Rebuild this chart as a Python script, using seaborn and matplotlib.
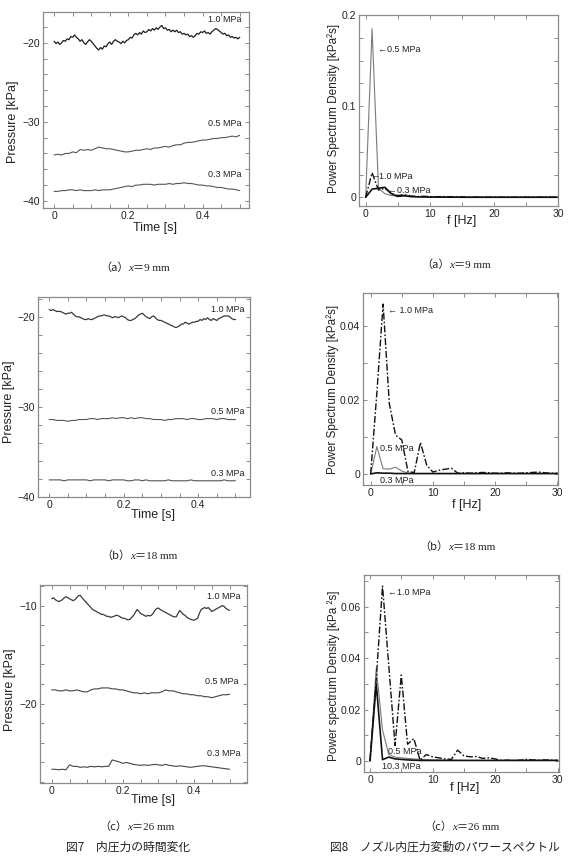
import numpy as np
import pandas as pd
import matplotlib
matplotlib.use("Agg")
import matplotlib.pyplot as plt
import seaborn as sns
from matplotlib.ticker import MultipleLocator, FixedLocator, FixedFormatter
from matplotlib.transforms import IdentityTransform

# ---------------- data: pressure time series (kPa) ----------------
p_a_10 = [-19.8, -20.1, -19.9, -20.2, -20.0, -19.7, -19.8, -19.5, -19.6, -19.2,
          -19.3, -19.0, -19.3, -19.5, -19.8, -19.6, -20.0, -20.2, -19.9, -19.6,
          -19.8, -20.1, -20.4, -20.7, -20.9, -20.6, -20.8, -20.4, -20.5, -20.1,
          -19.9, -20.2, -19.8, -19.6, -19.8, -19.9, -20.1, -19.8, -20.0, -19.7,
          -19.6, -19.3, -19.4, -19.0, -18.8, -19.0, -18.7, -18.9, -18.5, -18.7,
          -18.6, -18.3, -18.5, -18.2, -18.4, -18.1, -18.3, -18.0, -17.8, -18.2,
          -18.1, -18.4, -18.3, -18.6, -18.4, -18.6, -18.4, -18.7, -18.6, -18.9,
          -18.8, -19.0, -18.9, -19.2, -19.1, -19.3, -19.1, -18.8, -18.9, -18.6,
          -18.7, -18.5, -18.8, -18.7, -18.9, -18.6, -18.4, -18.2, -18.3, -18.5,
          -18.7, -18.9, -18.8, -19.1, -19.0, -19.3, -19.2, -19.4, -19.3, -19.5,
          -19.3]
p_a_05 = [-34.2, -34.1, -34.2, -34.0, -34.0, -33.8, -33.9, -33.5, -33.6, -33.5,
          -33.6, -33.4, -33.2, -33.3, -33.4, -33.4, -33.5, -33.6, -33.7, -33.8,
          -33.8, -33.7, -33.6, -33.6, -33.5, -33.4, -33.5, -33.3, -33.3, -33.2,
          -33.1, -33.2, -33.0, -32.9, -32.9, -32.7, -32.6, -32.6, -32.5, -32.4,
          -32.3, -32.3, -32.2, -32.1, -32.1, -32.0, -32.0, -31.9, -31.8, -31.9,
          -31.7]
p_a_03 = [-38.8, -38.8, -38.7, -38.7, -38.6, -38.6, -38.7, -38.6, -38.7, -38.7,
          -38.7, -38.6, -38.7, -38.6, -38.6, -38.6, -38.5, -38.4, -38.3, -38.2,
          -38.1, -38.2, -38.0, -38.0, -37.9, -37.9, -37.9, -38.0, -37.9, -37.9,
          -37.9, -37.8, -37.9, -37.8, -37.8, -37.7, -37.8, -37.8, -37.9, -38.0,
          -38.0, -38.1, -38.1, -38.2, -38.3, -38.3, -38.4, -38.5, -38.5, -38.6,
          -38.7]

p_b_10 = [-19.2, -19.3, -19.2, -19.3, -19.4, -19.4, -19.4, -19.5, -19.6, -19.7,
          -19.6, -19.6, -19.5, -19.7, -19.9, -20.0, -20.0, -20.1, -20.2, -20.3,
          -20.3, -20.2, -20.3, -20.3, -20.2, -20.1, -20.0, -19.9, -19.9, -19.8,
          -19.8, -19.9, -19.9, -20.0, -20.1, -20.0, -20.0, -20.1, -20.0, -19.9,
          -20.0, -20.1, -20.3, -20.4, -20.4, -20.3, -20.2, -20.0, -19.8, -19.7,
          -19.6, -19.8, -20.0, -20.1, -20.2, -20.0, -19.9, -20.1, -20.3, -20.4,
          -20.4, -20.5, -20.6, -20.7, -20.8, -20.9, -21.0, -21.1, -21.2, -21.1,
          -21.0, -20.8, -20.8, -20.6, -20.7, -20.8, -20.7, -20.6, -20.6, -20.5,
          -20.5, -20.3, -20.4, -20.2, -20.3, -20.1, -20.3, -20.4, -20.2, -20.3,
          -20.4, -20.2, -20.1, -20.0, -19.9, -19.9, -19.9, -20.0, -20.2, -20.3,
          -20.3]
p_b_05 = [-31.4, -31.4, -31.5, -31.5, -31.5, -31.6, -31.5, -31.5, -31.4, -31.4,
          -31.4, -31.3, -31.3, -31.4, -31.3, -31.3, -31.3, -31.2, -31.3, -31.2,
          -31.2, -31.3, -31.2, -31.3, -31.2, -31.2, -31.3, -31.3, -31.4, -31.4,
          -31.4, -31.5, -31.4, -31.4, -31.3, -31.3, -31.3, -31.4, -31.3, -31.3,
          -31.4, -31.4, -31.3, -31.3, -31.3, -31.4, -31.3, -31.3, -31.4, -31.4,
          -31.4]
p_b_03 = [-38.1, -38.1, -38.1, -38.1, -38.2, -38.1, -38.1, -38.1, -38.1, -38.1,
          -38.1, -38.2, -38.1, -38.1, -38.1, -38.1, -38.2, -38.1, -38.1, -38.1,
          -38.1, -38.2, -38.2, -38.1, -38.1, -38.2, -38.1, -38.2, -38.2, -38.2,
          -38.2, -38.2, -38.1, -38.2, -38.2, -38.2, -38.2, -38.2, -38.1, -38.2,
          -38.2, -38.2, -38.2, -38.2, -38.2, -38.2, -38.2, -38.1, -38.2, -38.2,
          -38.2]

p_c_10 = [-9.3, -9.2, -9.4, -9.5, -9.6, -9.5, -9.4, -9.2, -9.1, -9.2,
          -9.3, -9.4, -9.5, -9.4, -9.2, -9.0, -8.95, -9.2, -9.4, -9.6,
          -9.8, -10.0, -10.2, -10.4, -10.5, -10.6, -10.7, -10.8, -10.9, -10.9,
          -11.0, -11.1, -11.1, -11.2, -11.15, -11.1, -11.0, -11.0, -11.1, -11.2,
          -11.3, -11.3, -11.4, -11.45, -11.4, -11.2, -11.0, -10.7, -10.4, -10.6,
          -10.8, -10.9, -11.0, -11.1, -11.0, -11.05, -11.0, -10.8, -10.5, -10.3,
          -10.25, -10.4, -10.5, -10.6, -10.7, -10.8, -10.9, -11.0, -11.1, -11.15,
          -11.15, -10.8, -10.5, -10.7, -10.9, -11.0, -11.2, -11.3, -11.4, -11.45,
          -11.5, -11.4, -11.3, -10.8, -10.4, -10.3, -10.2, -10.3, -10.2, -10.4,
          -10.6, -10.5, -10.4, -10.3, -10.2, -10.1, -10.0, -10.1, -10.3, -10.4,
          -10.5]
p_c_05 = [-18.6, -18.6, -18.7, -18.7, -18.6, -18.7, -18.7, -18.6, -18.7, -18.8,
          -18.8, -18.6, -18.5, -18.5, -18.4, -18.4, -18.4, -18.5, -18.5, -18.6,
          -18.6, -18.7, -18.8, -18.9, -18.9, -19.0, -18.9, -19.0, -18.9, -18.9,
          -18.9, -18.8, -18.6, -18.7, -18.7, -18.8, -18.9, -19.0, -19.0, -19.1,
          -19.1, -19.2, -19.2, -19.3, -19.3, -19.4, -19.3, -19.2, -19.1, -19.1,
          -19.05]
p_c_03 = [-26.7, -26.7, -26.75, -26.7, -26.75, -26.25, -26.4, -26.4, -26.5, -26.45,
          -26.5, -26.4, -26.45, -26.4, -26.45, -26.4, -26.4, -25.75, -25.85, -25.95,
          -26.1, -26.0, -26.1, -26.2, -26.25, -26.3, -26.25, -26.3, -26.25, -26.2,
          -26.25, -26.3, -26.2, -26.3, -26.35, -26.4, -26.35, -26.4, -26.45, -26.5,
          -26.45, -26.4, -26.35, -26.35, -26.4, -26.45, -26.5, -26.55, -26.6, -26.65,
          -26.7]

# ---------------- data: power spectrum density (kPa^2 s), f = 0..30 Hz ----------------
freq = list(range(31))
s_a_05 = [0, 0.185, 0.010, 0.004, 0.002, 0.0015, 0.0012, 0.0010, 0.0008, 0.0006,
          0.0005, 0.0004, 0.0004, 0.0003, 0.0003, 0.0002, 0.0002, 0.0002, 0.0001, 0.0001,
          0.0001, 0.0001, 0.0001, 0.0001, 0.0001, 0.0001, 0.0001, 0.0001, 0.0001, 0.0001, 0.0001]
s_a_10 = [0, 0.027, 0.008, 0.010, 0.004, 0.002, 0.003, 0.0015, 0.0010, 0.0012,
          0.0008, 0.0007, 0.0009, 0.0006, 0.0004, 0.0005, 0.0003, 0.0003, 0.0002, 0.0002,
          0.0002, 0.0002, 0.0002, 0.0002, 0.0002, 0.0002, 0.0002, 0.0002, 0.0002, 0.0002, 0.0002]
s_a_03 = [0, 0.009, 0.010, 0.011, 0.004, 0.001, 0.002, 0.0008, 0.0005, 0.0004,
          0.0003, 0.0003, 0.0002, 0.0002, 0.0002, 0.0001, 0.0001, 0.0001, 0.0001, 0.0001,
          0.0001, 0.0001, 0.0001, 0.0001, 0.0001, 0.0001, 0.0001, 0.0001, 0.0001, 0.0001, 0.0001]

s_b_10 = [0, 0.022, 0.046, 0.019, 0.0105, 0.0092, 0.0006, 0.0004, 0.0085, 0.0024,
          0.0005, 0.0010, 0.0013, 0.0015, 0.0002, 0.0003, 0.0002, 0.0003, 0.0004, 0.0003,
          0.0002, 0.0002, 0.0003, 0.0002, 0.0002, 0.0003, 0.0004, 0.0005, 0.0003, 0.0002, 0.0002]
s_b_05 = [0, 0.0074, 0.0014, 0.0013, 0.0018, 0.0008, 0.0002, 0.0001, 0.0001, 0.0001,
          0.0001, 0.0001, 0.0001, 0.0001, 0.0001, 0.0001, 0.0001, 0.0001, 0.0001, 0.0001,
          0.0001, 0.0001, 0.0001, 0.0001, 0.0001, 0.0001, 0.0001, 0.0001, 0.0001, 0.0001, 0.0001]
s_b_03 = [0, 0.0003, 0.0002, 0.0002, 0.0001, 0.0001, 0.0001, 0.0001, 0.0001, 0.0001,
          0.0001, 0.0001, 0.0001, 0.0001, 0.0001, 0.0001, 0.0001, 0.0001, 0.0001, 0.0001,
          0.0001, 0.0001, 0.0001, 0.0001, 0.0001, 0.0001, 0.0001, 0.0001, 0.0001, 0.0001, 0.0001]

s_c_10 = [0, 0.032, 0.068, 0.037, 0.006, 0.0334, 0.0065, 0.0087, 0.0003, 0.0025,
          0.0016, 0.0012, 0.0008, 0.0006, 0.0042, 0.0020, 0.0016, 0.0017, 0.0010, 0.0012,
          0.0008, 0.0002, 0.0003, 0.0002, 0.0003, 0.0006, 0.0004, 0.0003, 0.0004, 0.0003, 0.0002]
s_c_05 = [0, 0.036, 0.012, 0.0025, 0.0015, 0.0012, 0.0010, 0.0008, 0.0006, 0.0005,
          0.0004, 0.0004, 0.0003, 0.0003, 0.0002, 0.0002, 0.0002, 0.0002, 0.0002, 0.0002,
          0.0002, 0.0002, 0.0002, 0.0002, 0.0002, 0.0002, 0.0002, 0.0002, 0.0002, 0.0002, 0.0002]
s_c_03 = [0, 0.030, 0.0005, 0.0015, 0.0008, 0.0006, 0.0004, 0.0003, 0.0002, 0.0002,
          0.0002, 0.0002, 0.0002, 0.0002, 0.0002, 0.0002, 0.0002, 0.0002, 0.0002, 0.0002,
          0.0002, 0.0002, 0.0002, 0.0002, 0.0002, 0.0002, 0.0002, 0.0002, 0.0002, 0.0002, 0.0002]

series_labels = ["1.0 MPa", "0.5 MPa", "0.3 MPa"]
captions = [("a", "9"), ("b", "18"), ("c", "26")]
fig7_title = "図7　内圧力の時間変化"
fig8_title = "図8　ノズル内圧力変動のパワースペクトル"

# ---------------- style ----------------
sns.set_theme(style="ticks")
plt.rcParams["font.family"] = ["Liberation Sans", "DejaVu Sans"]
plt.rcParams["axes.unicode_minus"] = True

W, H = 569, 856
fig = plt.figure(figsize=(W / 100, H / 100), dpi=100)
fig.patch.set_facecolor("white")

FRAME = "#8a8a8a"
TXT = "#222222"


def make_ax(l, t, r, b):
    ax = fig.add_axes([l / W, 1 - b / H, (r - l) / W, (b - t) / H])
    ax.set_facecolor("white")
    for s in ax.spines.values():
        s.set_color(FRAME)
        s.set_linewidth(0.9)
    ax.tick_params(which="both", direction="in", top=True, right=True, length=3,
                   width=0.7, color=FRAME, labelsize=7.5, labelcolor=TXT, pad=2)
    return ax


def place_labels(ax, rect, xlab, ylab, xl_px, yl_px, ysize=9):
    l, t, r, b = rect
    ax.set_xlabel(xlab, fontsize=9, color=TXT, va="center", ha="center")
    ax.set_ylabel(ylab, fontsize=ysize, color=TXT, va="center", ha="center")
    ax.xaxis.set_label_coords((xl_px[0] - l) / (r - l), (b - xl_px[1]) / (b - t))
    ax.yaxis.set_label_coords((yl_px[0] - l) / (r - l), (b - yl_px[1]) / (b - t))


def line(ax, x, y, **kw):
    df = pd.DataFrame({"x": x, "y": y})
    sns.lineplot(data=df, x="x", y="y", ax=ax, estimator=None, sort=False,
                 legend=False, **kw)


def tgrid(v):
    n = len(v)
    return np.arange(n) * (0.5 / (n - 1))


# ---------------- time series panels ----------------
ts_panels = [
    dict(rect=(43, 12, 249, 208), ylim=(-40.9, -16.1), xlim=(-0.03, 0.525),
         data=[p_a_10, p_a_05, p_a_03], colors=["#1e1e1e", "#555555", "#555555"],
         yticks=[-40, -30, -20],
         lab=[(0.505, -17.0), (0.505, -30.25), (0.505, -36.6)],
         xl=(155, 228), yl=(13, 122)),
    dict(rect=(38, 297, 250, 497), ylim=(-40.0, -17.8), xlim=(-0.03, 0.539),
         data=[p_b_10, p_b_05, p_b_03], colors=["#3a3a3a", "#555555", "#555555"],
         yticks=[-40, -30, -20],
         lab=[(0.525, -19.2), (0.525, -30.55), (0.525, -37.4)],
         xl=(153, 515), yl=(9, 402)),
    dict(rect=(40, 585, 247, 783), ylim=(-28.1, -7.9), xlim=(-0.033, 0.549),
         data=[p_c_10, p_c_05, p_c_03], colors=["#3a3a3a", "#444444", "#444444"],
         yticks=[-20, -10],
         lab=[(0.53, -9.05), (0.525, -17.7), (0.532, -25.1)],
         xl=(153, 800), yl=(10, 690)),
]

for p in ts_panels:
    ax = make_ax(*p["rect"])
    for v, c, lw in zip(p["data"], p["colors"], [0.9, 0.8, 0.8]):
        line(ax, tgrid(v), v, color=c, linewidth=lw)
    ax.set_xlim(*p["xlim"])
    ax.set_ylim(*p["ylim"])
    ax.xaxis.set_major_locator(FixedLocator([0, 0.2, 0.4]))
    ax.xaxis.set_major_formatter(FixedFormatter(["0", "0.2", "0.4"]))
    ax.xaxis.set_minor_locator(MultipleLocator(0.05))
    ax.yaxis.set_major_locator(FixedLocator(p["yticks"]))
    ax.yaxis.set_major_formatter(FixedFormatter(["\u2212%d" % abs(v) for v in p["yticks"]]))
    ax.yaxis.set_minor_locator(MultipleLocator(2))
    for (x, y), s in zip(p["lab"], series_labels):
        ax.text(x, y, s, fontsize=6.5, ha="right", va="center", color=TXT)
    place_labels(ax, p["rect"], "Time [s]", "Pressure [kPa]", p["xl"], p["yl"])

# ---------------- PSD panels ----------------
psd_panels = [
    dict(rect=(359, 15, 558, 206), ylim=(-0.0095, 0.2), xlim=(-1.04, 30),
         data=[s_a_10, s_a_05, s_a_03], yticks=[0, 0.1, 0.2], ylabs=["0", "0.1", "0.2"],
         yminor=0.025,
         lab=[(1.35, 0.0227, "\u20131.0 MPa"), (1.9, 0.162, "\u21900.5 MPa"), (3.5, 0.0073, "\u21900.3 MPa")],
         ylabel="Power Spectrum Density [kPa\u00b2s]",
         xl=(462, 221), yl=(334, 108)),
    dict(rect=(363, 293, 558, 485), ylim=(-0.003, 0.049), xlim=(-1.23, 30.1),
         data=[s_b_10, s_b_05, s_b_03], yticks=[0, 0.02, 0.04], ylabs=["0", "0.02", "0.04"],
         yminor=0.01,
         lab=[(2.8, 0.0443, "\u2190 1.0 MPa"), (1.45, 0.0068, "0.5 MPa"), (1.45, -0.0018, "0.3 MPa")],
         ylabel="Power Spectrum Density [kPa\u00b2s]",
         xl=(467, 505), yl=(333, 389)),
    dict(rect=(364, 575, 559, 772), ylim=(-0.0043, 0.0723), xlim=(-0.96, 30.2),
         data=[s_c_10, s_c_05, s_c_03], yticks=[0, 0.02, 0.04, 0.06],
         ylabs=["0", "0.02", "0.04", "0.06"], yminor=0.01,
         lab=[(2.8, 0.0655, "\u21901.0 MPa"), (2.9, 0.0038, "0.5 MPa"), (1.86, -0.0023, "10.3 MPa")],
         ylabel="Power spectrum Density [kPa \u00b2s]",
         xl=(465, 788), yl=(334, 676)),
]

for p in psd_panels:
    ax = make_ax(*p["rect"])
    s10, s05, s03 = p["data"]
    line(ax, freq, s05, color="#7a7a7a", linewidth=0.8)
    line(ax, freq, s03, color="#111111", linewidth=1.2)
    line(ax, freq, s10, color="#111111", linewidth=1.0, linestyle=(0, (5, 1.5, 1.2, 1.5)))
    ax.set_xlim(*p["xlim"])
    ax.set_ylim(*p["ylim"])
    ax.xaxis.set_major_locator(FixedLocator([0, 10, 20, 30]))
    ax.xaxis.set_major_formatter(FixedFormatter(["0", "10", "20", "30"]))
    ax.xaxis.set_minor_locator(MultipleLocator(5))
    ax.yaxis.set_major_locator(FixedLocator(p["yticks"]))
    ax.yaxis.set_major_formatter(FixedFormatter(p["ylabs"]))
    ax.yaxis.set_minor_locator(MultipleLocator(p["yminor"]))
    for x, y, s in p["lab"]:
        ax.text(x, y, s, fontsize=6.5, ha="left", va="center", color=TXT)
    place_labels(ax, p["rect"], "f [Hz]", p["ylabel"], p["xl"], p["yl"], ysize=8.5)

# ---------------- captions ----------------
renderer = fig.canvas.get_renderer()


def rich_caption(xc, yc, parts, size=8):
    texts = []
    for s, kw in parts:
        t = fig.text(0, 0, s, fontsize=size, color=TXT, va="baseline", ha="left",
                     transform=IdentityTransform(), **kw)
        texts.append(t)
    widths = [t.get_window_extent(renderer=renderer).width for t in texts]
    x = xc - sum(widths) / 2
    for t, w in zip(texts, widths):
        t.set_position((x, H - yc - 3))
        x += w


for (letter, xv), yl_, yr_, xl_, xr_ in zip(captions, [268, 556, 827], [265, 547, 827],
                                          [135, 139, 137], [456, 457, 462]):
    for xc, yc in [(xl_, yl_), (xr_, yr_)]:
        rich_caption(xc, yc, [
            ("\uff08" + letter + "\uff09", dict(family=["Noto Sans CJK JP"])),
            ("x", dict(family=["Liberation Serif"], style="italic")),
            ("\uff1d" + xv + " mm", dict(family=["Liberation Serif", "Noto Sans CJK JP"])),
        ])

fig.text(128 / W, 1 - 847 / H, fig7_title, fontsize=8.5, ha="center", va="center",
         color=TXT, family=["Noto Sans CJK JP"])
fig.text(445 / W, 1 - 847 / H, fig8_title, fontsize=8.5, ha="center", va="center",
         color=TXT, family=["Noto Sans CJK JP"])

fig.savefig("out.png", dpi=100, facecolor="white")
